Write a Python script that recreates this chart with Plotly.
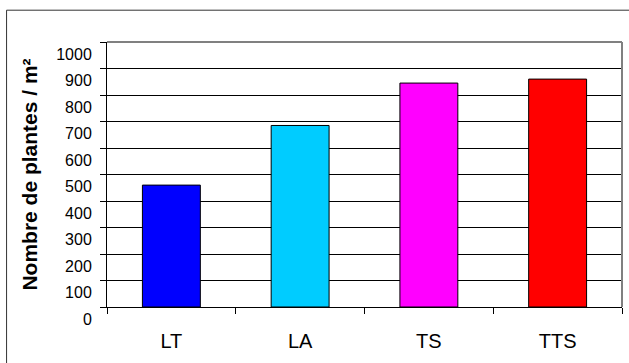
import plotly.graph_objects as go

# Plant density per treatment
categories = ["LT", "LA", "TS", "TTS"]
densities = [460, 685, 845, 860]
bar_colors = ["#0000FF", "#00CCFF", "#FF00FF", "#FF0000"]
y_ticks = [0, 100, 200, 300, 400, 500, 600, 700, 800, 900, 1000]

FONT = "Liberation Sans, Arial, sans-serif"

fig = go.Figure(
    go.Bar(
        x=categories,
        y=densities,
        width=0.45,
        marker=dict(color=bar_colors, line=dict(color="#000000", width=1)),
    )
)

fig.update_layout(
    width=629,
    height=363,
    margin=dict(l=107, r=7, t=42, b=56),
    paper_bgcolor="white",
    plot_bgcolor="white",
    showlegend=False,
    font=dict(family=FONT, color="#000000"),
    shapes=[
        # plot-area frame on top and right
        dict(type="line", xref="paper", yref="paper", x0=0, x1=1, y0=1, y1=1,
             line=dict(color="#808080", width=2)),
        dict(type="line", xref="paper", yref="paper", x0=1, x1=1, y0=0, y1=1,
             line=dict(color="#808080", width=2)),
        # outer chart frame
        dict(type="line", xref="paper", yref="paper", x0=-0.195, x1=-0.195, y0=-0.3, y1=1.12,
             line=dict(color="#333333", width=1)),
        dict(type="line", xref="paper", yref="paper", x0=-0.195, x1=1.1, y0=1.12, y1=1.12,
             line=dict(color="#333333", width=1)),
    ],
)

fig.update_xaxes(
    type="category",
    showgrid=False,
    showline=True,
    linecolor="#000000",
    linewidth=1,
    ticks="outside",
    tickson="boundaries",
    ticklen=6,
    tickcolor="#000000",
    ticklabelstandoff=16,
    tickfont=dict(size=20, family=FONT, color="#000000"),
    zeroline=False,
)

fig.update_yaxes(
    range=[0, 1000],
    tickvals=y_ticks,
    showgrid=True,
    gridcolor="#000000",
    gridwidth=1,
    showline=True,
    linecolor="#000000",
    linewidth=1,
    ticks="outside",
    ticklen=6,
    tickcolor="#000000",
    ticklabelshift=12,
    ticklabelstandoff=5,
    tickfont=dict(size=16, family=FONT, color="#000000"),
    zeroline=False,
    title=dict(text="<b>Nombre de plantes / m²</b>",
               font=dict(size=21, family=FONT, color="#000000"),
               standoff=12),
)

fig.write_html("out.html")
